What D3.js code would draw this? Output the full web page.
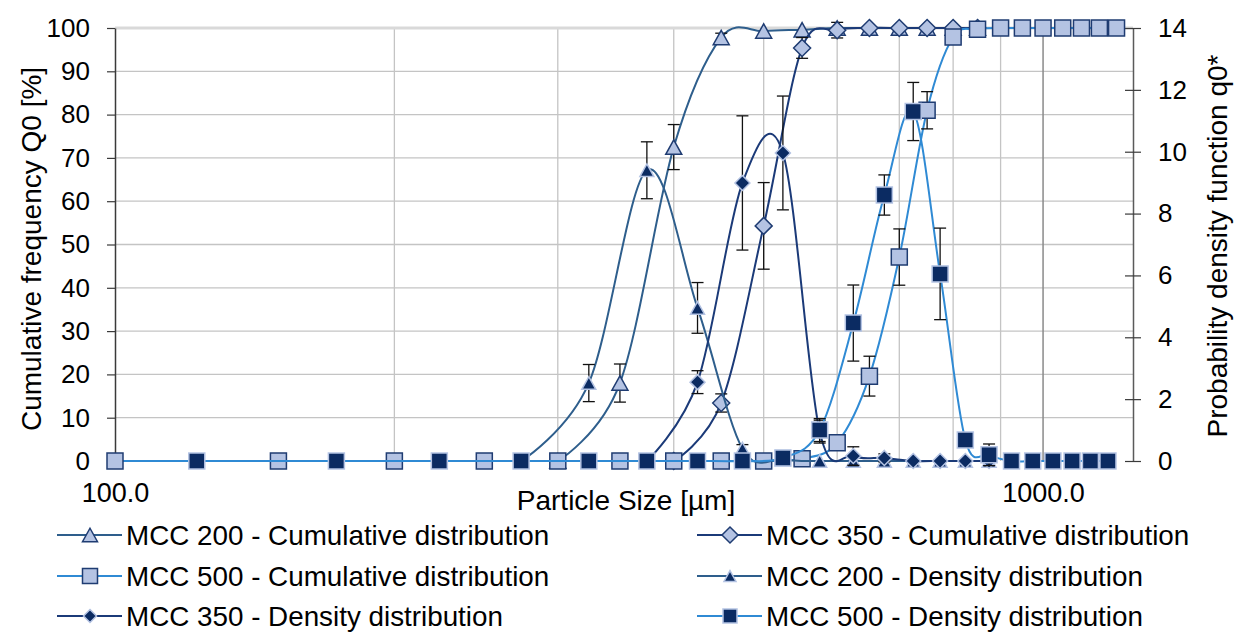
<!DOCTYPE html>
<html><head><meta charset="utf-8">
<script src="https://cdn.jsdelivr.net/npm/d3@7"></script>
<style>
body{margin:0;background:#fff}
svg{display:block;font-family:"Liberation Sans",Arial,sans-serif}
</style>
</head><body>
<svg id="c" width="1235" height="632"></svg>
<script>
// ---------- data ----------
const cumSizes = [100,150,200,250,300,350,400,450,500,550,600,650,700,750,800,850,900,950,1000,1050,1100,1150,1200];
const densSizes = [122.5,173.2,223.6,273.9,324.0,374.2,424.3,474.3,524.4,574.5,624.5,674.5,724.6,774.6,824.6,874.6,924.7,974.7,1024.7,1074.7,1124.7,1174.7];

const mcc200CumSizes = [300,350,400,450,500,550,600,650,700,750,800,850];
const mcc200Cum      = [0,18,72.5,97.8,99.3,99.6,100,100,100,100,100,100];
const mcc200CumErr   = [0,4.4,5.2,1.0,0,0,0,0,0,0,0,0];

const mcc350CumSizes = [400,450,500,550,600,650,700,750,800,850];
const mcc350Cum      = [0,13.4,54.3,95.4,99.5,100,100,100,100,100];
const mcc350CumErr   = [0,2.1,10,2.4,1.8,0,0,0,0,0];

const mcc500Cum    = [0,0,0,0,0,0,0,0,0,0.5,4.2,19.6,47.1,81.0,97.9,99.7,100,100,100,100,100,100,100];
const mcc500CumErr = [0,0,0,0,0,0,0,0,0,0,0,4.6,6.5,4.3,0,0,0,0,0,0,0,0,0];

const mcc200DensSizes = [273.9,324.0,374.2,424.3,474.3,524.4,574.5,624.5,674.5,724.6,774.6,824.6,874.6];
const mcc200Dens      = [0,2.52,9.4,4.95,0.4,0.05,0,0,0,0,0,0,0];
const mcc200DensErr   = [0,0.6,0.92,0.82,0.13,0,0,0,0,0,0,0,0];

const mcc350DensSizes = [374.2,424.3,474.3,524.4,574.5,624.5,674.5,724.6,774.6,824.6,874.6];
const mcc350Dens      = [0,2.55,8.99,9.96,0.95,0.16,0.1,0,0,0,0];
const mcc350DensErr   = [0,0.37,2.17,1.84,0.37,0.3,0.13,0,0,0,0];

const mcc500Dens    = [0,0,0,0,0,0,0,0,0.1,1.0,4.46,8.6,11.3,6.05,0.68,0.2,0,0,0,0,0,0];
const mcc500DensErr = [0,0,0,0,0,0,0,0,0,0.37,1.23,0.65,0.94,1.48,0,0.35,0,0,0,0,0,0];

const leftTicks  = [0,10,20,30,40,50,60,70,80,90,100];
const rightTicks = [0,2,4,6,8,10,12,14];
const xTicks     = [100,1000];
const xGrid      = [200,300,400,500,600,700,800,900,1000];

const seriesNames = [
  "MCC 200 - Cumulative distribution",
  "MCC 350 - Cumulative distribution",
  "MCC 500 - Cumulative distribution",
  "MCC 200 - Density distribution",
  "MCC 350 - Density distribution",
  "MCC 500 - Density distribution"
];

// ---------- styles ----------
const C200 = "#2E5E8C", C350 = "#1B3A78", C500 = "#2F8AD4";
const LIGHT = "#B4C3E3", NAVY = "#1F3C72", DARK = "#0B2B62";

const series = [
  {name:seriesNames[0], sizes:mcc200CumSizes, vals:mcc200Cum, err:mcc200CumErr, axis:"L", color:C200, shape:"tri", fill:LIGHT, stroke:NAVY, ms:16, lms:15},
  {name:seriesNames[1], sizes:mcc350CumSizes, vals:mcc350Cum, err:mcc350CumErr, axis:"L", color:C350, shape:"dia", fill:LIGHT, stroke:NAVY, ms:17, lms:16},
  {name:seriesNames[2], sizes:cumSizes, vals:mcc500Cum, err:mcc500CumErr, axis:"L", color:C500, shape:"sq", fill:LIGHT, stroke:NAVY, ms:16, lms:15},
  {name:seriesNames[3], sizes:mcc200DensSizes, vals:mcc200Dens, err:mcc200DensErr, axis:"R", color:C200, shape:"tri", fill:DARK, stroke:LIGHT, ms:14, lms:12},
  {name:seriesNames[4], sizes:mcc350DensSizes, vals:mcc350Dens, err:mcc350DensErr, axis:"R", color:C350, shape:"dia", fill:DARK, stroke:LIGHT, ms:15, lms:13},
  {name:seriesNames[5], sizes:densSizes, vals:mcc500Dens, err:mcc500DensErr, axis:"R", color:C500, shape:"sq", fill:DARK, stroke:LIGHT, ms:16, lms:14}
];

// ---------- scales ----------
const svg = d3.select("#c");
const x  = d3.scaleLog().domain([100,1250]).range([115,1133]);
const yL = d3.scaleLinear().domain([0,100]).range([461,28]);
const yR = d3.scaleLinear().domain([0,14]).range([461,28]);

// ---------- grid ----------
const grid = svg.append("g");
grid.selectAll("line.h").data(leftTicks.filter(d=>d>0 && d<100)).join("line")
  .attr("x1",x(100)).attr("x2",x(1250)).attr("y1",d=>yL(d)).attr("y2",d=>yL(d))
  .attr("stroke","#c4c4c4").attr("stroke-width",1.3);
grid.selectAll("line.v").data(xGrid).join("line")
  .attr("x1",d=>x(d)).attr("x2",d=>x(d)).attr("y1",yL(0)).attr("y2",yL(100))
  .attr("stroke",d=>d===1000?"#8a8a8a":"#c4c4c4").attr("stroke-width",d=>d===1000?1.5:1.3);
grid.append("line").attr("x1",x(100)).attr("x2",x(1250)).attr("y1",yL(100)).attr("y2",yL(100))
  .attr("stroke","#d9d9d9").attr("stroke-width",3);

// ---------- axes ----------
const gL = svg.append("g").attr("transform",`translate(${x(100)},0)`)
  .call(d3.axisLeft(yL).tickValues(leftTicks).tickSize(8).tickSizeOuter(0).tickPadding(17));
gL.select(".domain").attr("stroke","#3a3a3a").attr("stroke-width",1.5);
gL.selectAll(".tick line").attr("stroke","#3a3a3a").attr("stroke-width",1.2);
gL.selectAll("text").attr("font-size",26).attr("fill","#000").attr("font-family","Liberation Sans, Arial, sans-serif");

const gR = svg.append("g").attr("transform",`translate(${x(1250)},0)`)
  .call(d3.axisRight(yR).tickValues(rightTicks).tickSize(8).tickSizeOuter(0).tickPadding(17));
gR.select(".domain").attr("stroke","#5a5a5a").attr("stroke-width",1.5);
gR.selectAll(".tick line").attr("x1",-8).attr("stroke","#3a3a3a").attr("stroke-width",1.2);
gR.selectAll("text").attr("font-size",26).attr("fill","#000").attr("font-family","Liberation Sans, Arial, sans-serif");

const gB = svg.append("g").attr("transform",`translate(0,${yL(0)})`)
  .call(d3.axisBottom(x).tickValues(xTicks).tickFormat(d3.format(".1f")).tickSize(0).tickPadding(22));
gB.select(".domain").remove();
gB.selectAll("text").attr("font-size",27).attr("fill","#000").attr("font-family","Liberation Sans, Arial, sans-serif");

// axis titles
svg.append("text").attr("transform","translate(31,249) rotate(-90)").attr("text-anchor","middle")
  .attr("dy","0.35em").attr("font-size",28).text("Cumulative frequency Q0 [%]");
svg.append("text").attr("transform","translate(1217,246) rotate(-90)").attr("text-anchor","middle")
  .attr("dy","0.35em").attr("font-size",28).text("Probability density function q0*");
svg.append("text").attr("x",626).attr("y",500).attr("text-anchor","middle")
  .attr("dy","0.35em").attr("font-size",28).text("Particle Size [µm]");

// ---------- marker shapes ----------
function shapePath(shape, s){
  const r = s/2;
  if(shape==="sq") return `M${-r},${-r}H${r}V${r}H${-r}Z`;
  if(shape==="dia") return `M0,${-r}L${r},0L0,${r}L${-r},0Z`;
  const h = s*0.9;
  return `M0,${-h/2}L${r},${h/2}L${-r},${h/2}Z`;
}

// ---------- series ----------
const line = d3.line().curve(d3.curveCardinal.tension(0));
series.forEach(s=>{
  const y = s.axis==="L"?yL:yR;
  const pts = s.sizes.map((d,i)=>({x:x(d), y:y(s.vals[i]), v:s.vals[i], e:s.err[i]}));
  const g = svg.append("g");
  g.append("path").attr("d",line(pts.map(p=>[p.x,p.y]))).attr("fill","none")
    .attr("stroke",s.color).attr("stroke-width",2);
  const eb = g.append("g").selectAll("g").data(pts.filter(p=>p.e>0)).join("g");
  eb.append("line").attr("x1",p=>p.x).attr("x2",p=>p.x)
    .attr("y1",p=>y(p.v+p.e)).attr("y2",p=>y(p.v-p.e)).attr("stroke","#111").attr("stroke-width",1.3);
  [1,-1].forEach(sg=>{
    eb.append("line").attr("x1",p=>p.x-6).attr("x2",p=>p.x+6)
      .attr("y1",p=>y(p.v+sg*p.e)).attr("y2",p=>y(p.v+sg*p.e)).attr("stroke","#111").attr("stroke-width",1.3);
  });
  g.append("g").selectAll("path").data(pts).join("path")
    .attr("transform",p=>`translate(${p.x},${p.y})`)
    .attr("d",shapePath(s.shape,s.ms)).attr("fill",s.fill).attr("stroke",s.stroke).attr("stroke-width",1.5);
});

// ---------- legend ----------
const legendOrder = [0,1,2,3,4,5];
const leg = svg.append("g");
legendOrder.forEach((si,k)=>{
  const s = series[si];
  const col = k%2, row = Math.floor(k/2);
  const lx = col===0?57:697, ly = [535,576,616][row];
  const it = leg.append("g").attr("transform",`translate(${lx},${ly})`);
  it.append("line").attr("x1",0).attr("x2",65).attr("y1",0).attr("y2",0).attr("stroke",s.color).attr("stroke-width",2);
  it.append("path").attr("transform","translate(33,0)").attr("d",shapePath(s.shape,s.lms))
    .attr("fill",s.fill).attr("stroke",s.stroke).attr("stroke-width",1.5);
  it.append("text").attr("x",69).attr("dy","0.35em").attr("font-size",27.8).attr("fill","#000").text(s.name);
});
</script>
</body></html>
